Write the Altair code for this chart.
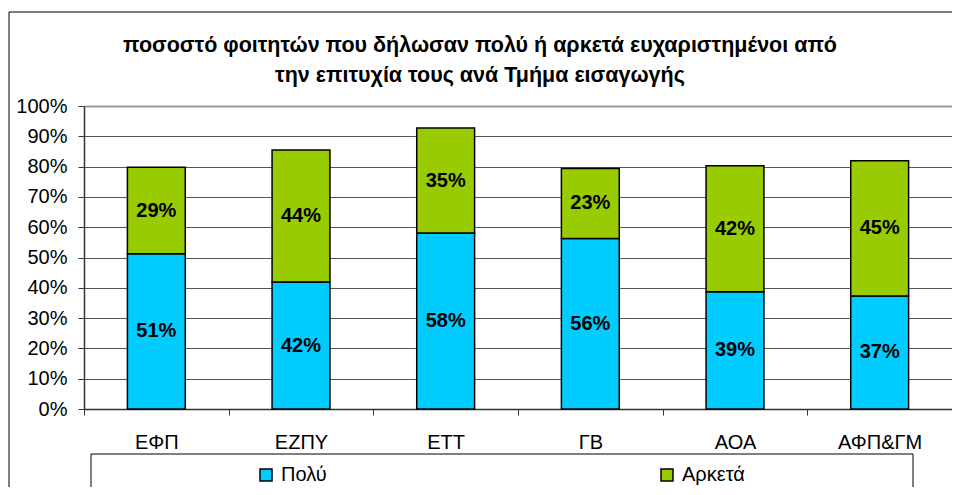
import altair as alt
import pandas as pd

FONT = "Liberation Sans"

categories = ["ΕΦΠ", "ΕΖΠΥ", "ΕΤΤ", "ΓΒ", "ΑΟΑ", "ΑΦΠ&ΓΜ"]
series = ["Πολύ", "Αρκετά"]
polu = [51.2, 41.9, 58.1, 56.3, 38.7, 37.3]
arketa = [28.6, 43.6, 34.6, 23.1, 41.6, 44.6]
y_ticks = [0, 10, 20, 30, 40, 50, 60, 70, 80, 90, 100]
colors = ["#00CCFF", "#99CC00"]
title_lines = [
    "ποσοστό φοιτητών που δήλωσαν πολύ ή αρκετά ευχαριστημένοι από",
    "την επιτυχία τους ανά Τμήμα εισαγωγής",
]

rows = []
for i, c in enumerate(categories):
    rows.append({"cat": c, "series": series[0], "value": polu[i], "order": 0})
    rows.append({"cat": c, "series": series[1], "value": arketa[i], "order": 1})
df = pd.DataFrame(rows)

W, H = 868, 303
STEP = W / 6.0

base = alt.Chart(df).transform_stack(
    stack="value",
    groupby=["cat"],
    as_=["y0", "y1"],
    sort=[alt.SortField("order", order="ascending")],
).transform_calculate(
    mid="(datum.y0 + datum.y1) / 2",
    label="format(datum.value, '.0f') + '%'",
)

x_axis = alt.Axis(
    title=None,
    labelAngle=0,
    labelFont=FONT,
    labelFontSize=20,
    labelColor="black",
    labelPadding=17,
    tickSize=6,
    tickColor="#333",
    domainColor="#333",
    domainWidth=1.5,
    tickOffset=-STEP / 2,
    labelOffset=STEP / 2,
    grid=False,
)
x_scale = alt.Scale(paddingInner=0.6, paddingOuter=0.3)

y_axis = alt.Axis(
    title=None,
    values=y_ticks,
    labelExpr="datum.value + '%'",
    labelOverlap=False,
    labelFont=FONT,
    labelFontSize=20,
    labelColor="black",
    labelPadding=11,
    tickSize=6,
    tickColor="#333",
    domainColor="#333",
    domainWidth=1.5,
    grid=True,
    gridColor={"condition": {"test": "datum.value >= 100", "value": "#9a9a9a"}, "value": "#555555"},
    gridWidth={"condition": {"test": "datum.value >= 100", "value": 2}, "value": 1},
)
y_scale = alt.Scale(domain=[0, 100], nice=False)

bars = base.mark_bar(stroke="black", strokeWidth=1.5).encode(
    x=alt.X("cat:N", sort=categories, scale=x_scale, axis=x_axis),
    y=alt.Y("y0:Q", scale=y_scale, axis=y_axis),
    y2="y1:Q",
    color=alt.Color(
        "series:N",
        sort=series,
        scale=alt.Scale(domain=series, range=colors),
        legend=alt.Legend(
            title=None,
            orient="none",
            direction="horizontal",
            columns=2,
            legendX=172,
            legendY=359,
            columnPadding=330,
            symbolType="square",
            symbolSize=144,
            symbolStrokeColor="black",
            symbolStrokeWidth=1.5,
            labelFont=FONT,
            labelFontSize=20,
            labelColor="black",
            labelOffset=5,
            padding=0,
        ),
    ),
)

labels = base.mark_text(
    font=FONT, fontSize=20, fontWeight="bold", color="black", baseline="middle"
).encode(
    x=alt.X("cat:N", sort=categories, scale=x_scale, axis=x_axis),
    y=alt.Y("mid:Q", scale=y_scale, axis=y_axis),
    text="label:N",
)

frame_data = alt.Data(values=[{"k": 1}])
outer = alt.Chart(frame_data).mark_rect(
    fillOpacity=0, stroke="black", strokeWidth=1
).encode(
    x=alt.value(-75), x2=alt.value(2000), y=alt.value(-94), y2=alt.value(1000)
)
legend_box = alt.Chart(frame_data).mark_rect(
    fillOpacity=0, stroke="black", strokeWidth=1
).encode(
    x=alt.value(7), x2=alt.value(829), y=alt.value(348), y2=alt.value(1000)
)

chart = alt.layer(outer, legend_box, bars, labels).properties(
    width=W,
    height=H,
    autosize=alt.AutoSizeParams(type="none"),
    padding={"left": 76, "top": 98, "right": 0, "bottom": 78},
    title=alt.TitleParams(
        text=title_lines,
        font=FONT,
        fontSize=21.5,
        fontWeight="bold",
        color="black",
        anchor="middle",
        dx=-38,
        offset=0,
        dy=75,
        lineHeight=30,
    ),
).configure_view(stroke="#9a9a9a", strokeWidth=2).configure(background="white")

chart.save("out.html", embed_options={"renderer": "svg", "actions": False})
